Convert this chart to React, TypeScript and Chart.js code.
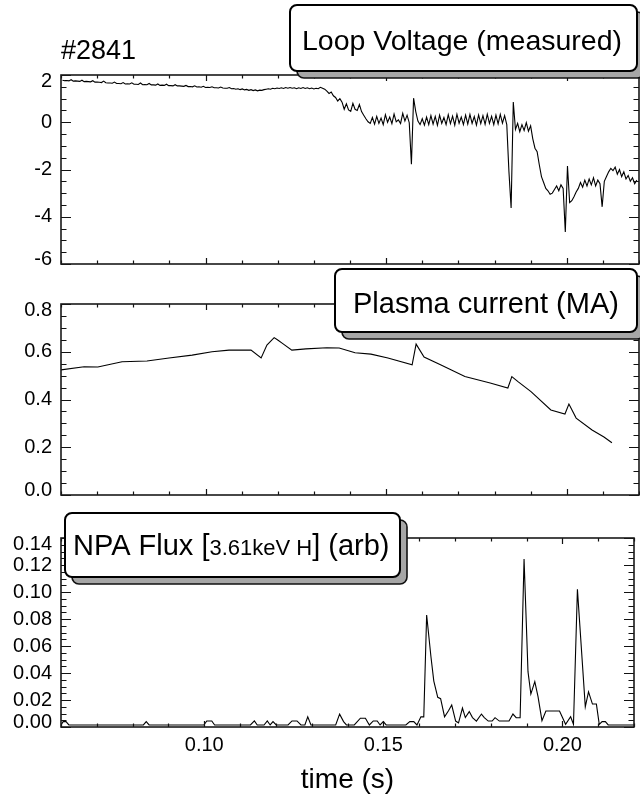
import React, { useEffect, useRef } from 'react';
import { Chart, registerables } from 'chart.js';

Chart.register(...registerables);

const FONT = "'Liberation Sans', Arial, Helvetica, sans-serif";

// ---------- time axis ----------
const X_MIN = 0.06;
const X_MAX = 0.22;
const X_MAJOR = [0.1, 0.15, 0.2];
const X_MAJOR_LABELS = ['0.10', '0.15', '0.20'];
const X_MINOR = [0.06, 0.07, 0.08, 0.09, 0.11, 0.12, 0.13, 0.14, 0.16, 0.17, 0.18, 0.19, 0.21, 0.22];

// ---------- Loop voltage (sampled signal) ----------
const LOOP_T0 = 0.0604;
const LOOP_DT = 0.0006;
const LOOP_V = [
  1.78, 1.76, 1.77, 1.75, 1.80, 1.74, 1.75, 1.74, 1.73, 1.78, 1.72, 1.73, 1.72, 1.71, 1.76, 1.70, 1.70, 1.69, 1.68, 1.74, 1.67,
  1.66, 1.66, 1.65, 1.70, 1.64, 1.64, 1.63, 1.68, 1.62, 1.63, 1.62, 1.67, 1.61, 1.61, 1.60, 1.66, 1.59, 1.60, 1.59, 1.64,
  1.58, 1.58, 1.57, 1.62, 1.56, 1.57, 1.56, 1.61, 1.55, 1.55, 1.54, 1.59, 1.54, 1.54,
  1.53, 1.52, 1.56, 1.51, 1.51, 1.50, 1.54, 1.49, 1.50, 1.48, 1.52, 1.47, 1.48, 1.47, 1.50, 1.46, 1.46, 1.45, 1.49, 1.45, 1.44, 1.44, 1.47,
  1.42, 1.43, 1.40, 1.42, 1.38, 1.41, 1.37, 1.39, 1.35, 1.38, 1.34, 1.37, 1.33, 1.36, 1.35,
  1.38, 1.40, 1.42, 1.40, 1.44, 1.42, 1.45, 1.43, 1.46, 1.43, 1.47, 1.44, 1.47, 1.44, 1.46, 1.42, 1.46, 1.43, 1.47, 1.43,
  1.46, 1.42, 1.45, 1.41, 1.44, 1.42, 1.48, 1.44,
  1.40, 1.32, 1.22, 1.28, 1.12, 1.05, 0.90, 1.00, 0.85,
  0.55, 0.78, 0.52, 0.46, 0.80, 0.55, 0.50, 0.75, 0.45,
  0.30, 0.15, 0.02, -0.05,
  0.20, -0.08, 0.25, -0.05, 0.18, -0.10, 0.32, 0.00, 0.22, -0.06, 0.35, 0.02, 0.10, -0.05, 0.38, 0.05, 0.30, -0.02,
  -1.78, 1.02, 0.45, 0.05, -0.10,
  0.15, -0.12, 0.22, -0.10, 0.28, -0.08, 0.25, -0.13, 0.30, -0.05, 0.20, -0.10, 0.32, -0.06, 0.26, -0.12, 0.34, -0.04, 0.22, -0.10,
  0.30, -0.08, 0.33, -0.05, 0.24, -0.12, 0.31, -0.06, 0.28, -0.09, 0.34, -0.05, 0.25, -0.10, 0.30, -0.07, 0.33, -0.04, 0.28, -0.10,
  -2.10, -3.63, 0.86,
  -0.30, -0.05, -0.40, -0.10, -0.35, -0.02, -0.38, -0.15,
  -0.70, -1.10, -1.25, -1.80, -2.30,
  -2.55, -2.80, -2.90, -3.05, -3.00,
  -2.85, -2.70, -2.90, -2.65, -2.80,
  -4.64, -1.85, -3.40, -3.32, -3.15, -2.95, -2.80,
  -2.55, -2.75, -2.45, -2.70, -2.40, -2.65, -2.35, -2.70, -2.45, -2.60,
  -3.58, -2.50, -2.30, -2.10, -1.95,
  -2.05, -1.90, -2.20, -2.00, -2.30, -2.10, -2.40, -2.25, -2.50, -2.35, -2.60, -2.45,
];
const LOOP_Y_MAJOR = [-6, -4, -2, 0, 2];
const LOOP_Y_LABELS = ['-6', '-4', '-2', '0', '2'];

// ---------- Plasma current ----------
const PLASMA_T = [
  0.0600, 0.0664, 0.0702, 0.0769, 0.0838, 0.0899, 0.0963, 0.1018, 0.1065, 0.1126, 0.1154, 0.1170, 0.1190, 0.1199,
  0.1212, 0.1239, 0.1278, 0.1336, 0.1370, 0.1414, 0.1458, 0.1505, 0.1572, 0.1583, 0.1605, 0.1652, 0.1718, 0.1788,
  0.1837, 0.1848, 0.1865, 0.1901, 0.1956, 0.1995, 0.2006, 0.2026, 0.2070, 0.2103, 0.2125,
];
const PLASMA_V = [
  0.524, 0.537, 0.536, 0.558, 0.561, 0.574, 0.586, 0.600, 0.607, 0.607, 0.574, 0.628, 0.659, 0.650,
  0.636, 0.607, 0.612, 0.617, 0.616, 0.596, 0.590, 0.574, 0.545, 0.632, 0.578, 0.545, 0.496, 0.469,
  0.448, 0.496, 0.475, 0.433, 0.356, 0.339, 0.381, 0.322, 0.272, 0.243, 0.219,
];
const PLASMA_Y_MAJOR = [0, 0.2, 0.4, 0.6, 0.8];
const PLASMA_Y_LABELS = ['0.0', '0.2', '0.4', '0.6', '0.8'];

// ---------- NPA flux ----------
const NPA_T = [
  0.0600, 0.0606, 0.0614, 0.0622, 0.0830, 0.0838, 0.0846, 0.0999, 0.1007, 0.1021, 0.1029, 0.1129, 0.1140, 0.1148,
  0.1167, 0.1176, 0.1184, 0.1192, 0.1201, 0.1234, 0.1245, 0.1259, 0.1270, 0.1281, 0.1289, 0.1298, 0.1367, 0.1378,
  0.1389, 0.1397, 0.1419, 0.1436, 0.1450, 0.1461, 0.1472, 0.1483, 0.1491, 0.1500, 0.1508, 0.1563, 0.1574, 0.1585,
  0.1594, 0.1605, 0.1613, 0.1621, 0.1633, 0.1641, 0.1652, 0.1660, 0.1671, 0.1682, 0.1691, 0.1702, 0.1710, 0.1721,
  0.1729, 0.1740, 0.1749, 0.1760, 0.1774, 0.1782, 0.1793, 0.1804, 0.1812, 0.1824, 0.1851, 0.1862, 0.1871, 0.1882,
  0.1893, 0.1904, 0.1912, 0.1923, 0.1932, 0.1943, 0.1954, 0.1992, 0.2009, 0.2023, 0.2031, 0.2042, 0.2064, 0.2073,
  0.2084, 0.2095, 0.2103, 0.2111, 0.2120, 0.2128, 0.2200,
];
const NPA_V = [
  0.0015, 0.004, 0.004, 0.0015, 0.0015, 0.004, 0.0015, 0.0015, 0.0045, 0.0045, 0.0015, 0.0015, 0.0045, 0.0015,
  0.0015, 0.0045, 0.0015, 0.004, 0.0015, 0.0015, 0.0045, 0.0045, 0.0015, 0.0015, 0.0075, 0.0015, 0.0015, 0.0095,
  0.004, 0.0015, 0.0015, 0.0065, 0.0065, 0.0015, 0.0045, 0.0045, 0.0015, 0.004, 0.0015, 0.0015, 0.004, 0.004,
  0.0015, 0.0075, 0.0075, 0.083, 0.052, 0.034, 0.022, 0.021, 0.0076, 0.012, 0.0163, 0.0044, 0.003, 0.014,
  0.007, 0.0114, 0.007, 0.0044, 0.0096, 0.007, 0.0044, 0.0044, 0.0069, 0.0044, 0.0044, 0.0096, 0.0069, 0.0069,
  0.1245, 0.041, 0.0244, 0.0336, 0.0225, 0.0047, 0.0119, 0.0119, 0.002, 0.0076, 0.002, 0.102, 0.015, 0.026,
  0.017, 0.017, 0.002, 0.004, 0.004, 0.0015, 0.0015,
];
const NPA_Y_MAJOR = [0, 0.02, 0.04, 0.06, 0.08, 0.1, 0.12, 0.14];
const NPA_Y_LABELS = ['0.00', '0.02', '0.04', '0.06', '0.08', '0.10', '0.12', '0.14'];

// ---------- helpers ----------
const near = (a: number, b: number) => Math.abs(a - b) < 1e-7;
const labelFor = (vals: number[], labels: string[], v: number) => {
  const i = vals.findIndex((m) => near(m, v));
  return i >= 0 ? labels[i] : '';
};
const minorTicks = (min: number, max: number, step: number) => {
  const out: number[] = [];
  const n = Math.round((max - min) / step);
  for (let i = 0; i <= n; i++) out.push(+(min + i * step).toFixed(6));
  return out;
};

type Part = { text: string; size: number };
type LabelBox = { x: number; y: number; w: number; h: number; tx: number; ty: number; parts: Part[] };
type FreeText = { x: number; y: number; size: number; text: string };

type Panel = {
  points: { x: number; y: number }[];
  yMin: number;
  yMax: number;
  yStep: number;
  yMajor: number[];
  yLabels: string[];
  padTop: number;
  padBottom: number;
  showX: boolean;
  boxes: LabelBox[];
  texts: FreeText[];
};

function roundRectPath(ctx: CanvasRenderingContext2D, x: number, y: number, w: number, h: number, r: number) {
  ctx.beginPath();
  ctx.moveTo(x + r, y);
  ctx.arcTo(x + w, y, x + w, y + h, r);
  ctx.arcTo(x + w, y + h, x, y + h, r);
  ctx.arcTo(x, y + h, x, y, r);
  ctx.arcTo(x, y, x + w, y, r);
  ctx.closePath();
}

function framePlugin(p: Panel) {
  return {
    id: 'idlFrame',
    afterDatasetsDraw(chart: any) {
      const { ctx, chartArea: a } = chart;
      const xs = chart.scales.x;
      const ys = chart.scales.y;
      ctx.save();
      ctx.strokeStyle = '#111';
      ctx.lineWidth = 1.2;
      ctx.beginPath();
      const xt: [number, boolean][] = [
        ...X_MAJOR.map((v) => [v, true] as [number, boolean]),
        ...X_MINOR.map((v) => [v, false] as [number, boolean]),
      ];
      for (const [v, maj] of xt) {
        const px = Math.round(xs.getPixelForValue(v)) + 0.5;
        const len = maj ? 6 : 3.5;
        ctx.moveTo(px, a.bottom);
        ctx.lineTo(px, a.bottom - len);
        ctx.moveTo(px, a.top);
        ctx.lineTo(px, a.top + len);
      }
      for (const t of ys.ticks) {
        const py = Math.round(ys.getPixelForValue(t.value)) + 0.5;
        const maj = p.yMajor.some((m) => near(m, t.value));
        const len = maj ? 10 : 5.5;
        ctx.moveTo(a.left, py);
        ctx.lineTo(a.left + len, py);
        ctx.moveTo(a.right, py);
        ctx.lineTo(a.right - len, py);
      }
      ctx.stroke();
      ctx.lineWidth = 1.6;
      ctx.strokeStyle = '#1a1a1a';
      ctx.strokeRect(a.left, a.top, a.right - a.left, a.bottom - a.top);
      ctx.restore();
    },
    afterDraw(chart: any) {
      const ctx: CanvasRenderingContext2D = chart.ctx;
      ctx.save();
      for (const b of p.boxes) {
        roundRectPath(ctx, b.x + 7, b.y + 7, b.w, b.h, 7);
        ctx.fillStyle = '#a6a6a6';
        ctx.fill();
        ctx.lineWidth = 1.6;
        ctx.strokeStyle = '#111';
        ctx.stroke();
        roundRectPath(ctx, b.x, b.y, b.w, b.h, 7);
        ctx.fillStyle = '#fff';
        ctx.fill();
        ctx.lineWidth = 2;
        ctx.strokeStyle = '#000';
        ctx.stroke();
        let x = b.tx;
        ctx.fillStyle = '#000';
        ctx.textBaseline = 'alphabetic';
        ctx.textAlign = 'left';
        for (const part of b.parts) {
          ctx.font = `${part.size}px ${FONT}`;
          ctx.fillText(part.text, x, b.ty);
          x += ctx.measureText(part.text).width;
        }
      }
      for (const t of p.texts) {
        ctx.font = `${t.size}px ${FONT}`;
        ctx.fillStyle = '#000';
        ctx.textBaseline = 'alphabetic';
        ctx.textAlign = 'left';
        ctx.fillText(t.text, t.x, t.y);
      }
      ctx.restore();
    },
  };
}

function makeConfig(p: Panel): any {
  const yTicks = minorTicks(p.yMin, p.yMax, p.yStep);
  const xTicks = [...X_MINOR, ...X_MAJOR].sort((a, b) => a - b);
  // end labels sit slightly inside the frame (two-line label with a short line height)
  const yLabel = (v: number) => {
    const s = labelFor(p.yMajor, p.yLabels, v);
    if (s && near(v, p.yMax)) return ['', s];
    if (s && near(v, p.yMin)) return [s, ''];
    return s;
  };
  const yFont = (c: any) => {
    const v = c.tick ? c.tick.value : NaN;
    if (near(v, p.yMax)) return { size: 20, family: FONT, lineHeight: 0.6 };
    if (near(v, p.yMin)) return { size: 20, family: FONT, lineHeight: 0.5 };
    return { size: 20, family: FONT, lineHeight: 1.2 };
  };
  return {
    type: 'line',
    data: {
      datasets: [
        {
          data: p.points,
          borderColor: '#000',
          borderWidth: 1.1,
          pointRadius: 0,
          tension: 0,
          fill: false,
        },
      ],
    },
    options: {
      animation: false,
      responsive: false,
      events: [],
      layout: { padding: { top: p.padTop, bottom: p.padBottom, left: 0, right: 1 } },
      plugins: { legend: { display: false }, tooltip: { enabled: false }, title: { display: false } },
      scales: {
        x: {
          type: 'linear',
          min: X_MIN,
          max: X_MAX,
          display: p.showX,
          afterBuildTicks: (s: any) => {
            s.ticks = xTicks.map((v) => ({ value: v }));
          },
          afterFit: (s: any) => {
            s.height = p.showX ? 75 : 0;
          },
          ticks: {
            autoSkip: false,
            maxRotation: 0,
            padding: 6,
            color: '#000',
            font: { size: 20, family: FONT },
            callback: (v: number) => labelFor(X_MAJOR, X_MAJOR_LABELS, v),
          },
          grid: { display: false, drawTicks: false },
          border: { display: false },
          title: {
            display: true,
            text: 'time (s)',
            color: '#000',
            font: { size: 28, family: FONT },
            padding: { top: 0, bottom: 5 },
          },
        },
        y: {
          type: 'linear',
          min: p.yMin,
          max: p.yMax,
          afterBuildTicks: (s: any) => {
            s.ticks = yTicks.map((v) => ({ value: v }));
          },
          afterFit: (s: any) => {
            s.width = 61;
          },
          ticks: {
            autoSkip: false,
            padding: 9,
            color: '#000',
            font: yFont,
            callback: (v: number) => yLabel(v),
          },
          grid: { display: false, drawTicks: false },
          border: { display: false },
        },
      },
    },
    plugins: [framePlugin(p)],
  };
}

const PANELS: Panel[] = [
  {
    points: LOOP_V.map((v, i) => ({ x: LOOP_T0 + i * LOOP_DT, y: v })),
    yMin: -6,
    yMax: 2,
    yStep: 0.5,
    yMajor: LOOP_Y_MAJOR,
    yLabels: LOOP_Y_LABELS,
    padTop: 75,
    padBottom: 538,
    showX: false,
    boxes: [
      { x: 290, y: 5, w: 347, h: 66, tx: 302, ty: 50, parts: [{ text: 'Loop Voltage (measured)', size: 28.5 }] },
    ],
    texts: [{ x: 61, y: 59, size: 27, text: '#2841' }],
  },
  {
    points: PLASMA_T.map((t, i) => ({ x: t, y: PLASMA_V[i] })),
    yMin: 0,
    yMax: 0.8,
    yStep: 0.05,
    yMajor: PLASMA_Y_MAJOR,
    yLabels: PLASMA_Y_LABELS,
    padTop: 304,
    padBottom: 307,
    showX: false,
    boxes: [
      { x: 335, y: 269, w: 302, h: 63, tx: 353, ty: 313, parts: [{ text: 'Plasma current (MA)', size: 29 }] },
    ],
    texts: [],
  },
  {
    points: NPA_T.map((t, i) => ({ x: t, y: NPA_V[i] })),
    yMin: 0,
    yMax: 0.14,
    yStep: 0.005,
    yMajor: NPA_Y_MAJOR,
    yLabels: NPA_Y_LABELS,
    padTop: 538,
    padBottom: 0,
    showX: true,
    boxes: [
      {
        x: 65,
        y: 513,
        w: 335,
        h: 64,
        tx: 73,
        ty: 555,
        parts: [
          { text: 'NPA Flux [', size: 29 },
          { text: '3.61keV H', size: 22 },
          { text: '] (arb)', size: 29 },
        ],
      },
    ],
    texts: [],
  },
];

export default function App() {
  const r1 = useRef<HTMLCanvasElement>(null);
  const r2 = useRef<HTMLCanvasElement>(null);
  const r3 = useRef<HTMLCanvasElement>(null);

  useEffect(() => {
    Chart.defaults.font.family = FONT;
    const refs = [r1, r2, r3];
    const charts = refs.map((r, i) => new Chart(r.current as HTMLCanvasElement, makeConfig(PANELS[i])));
    return () => charts.forEach((c) => c.destroy());
  }, []);

  return (
    <div style={{ position: 'absolute', left: 0, top: 0, width: 640, height: 802, background: '#fff', overflow: 'hidden' }}>
      {[r1, r2, r3].map((r, i) => (
        <canvas key={i} ref={r} width={640} height={802} style={{ position: 'absolute', left: 0, top: 0 }} />
      ))}
    </div>
  );
}
